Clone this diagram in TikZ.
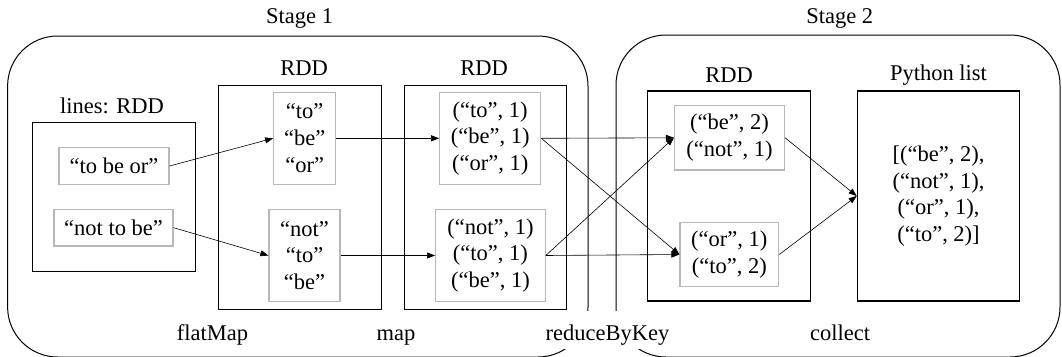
\documentclass[tikz,border=0pt]{standalone}
\usepackage{fontspec}
\setmainfont{Liberation Serif}
\usetikzlibrary{arrows.meta}
\begin{document}
\begin{tikzpicture}[x=1pt,y=-1pt,
  every node/.style={font=\fontsize{22.5}{26.7}\selectfont, inner sep=0pt},
  stage/.style={draw, line width=1pt, rounded corners=50pt},
  rdd/.style={draw, line width=1.1pt, align=center, minimum width=162.5pt},
  part/.style={draw=black!28, line width=1.2pt, align=center},
  oplbl/.style={anchor=base},
  conn/.style={line width=0.6pt, -{Triangle[length=8pt,width=6pt]}}
]
\useasboundingbox (0,0) rectangle (1062,356);
% stages
\node[stage, minimum width=580.4pt, minimum height=321pt] (s1) at (297.8,196.5) {};
\node[stage, minimum width=444pt, minimum height=322pt] (s2) at (838,196) {};
\node (s1l) at (299.6,18.3) {Stage 1};
\node (s2l) at (839.7,18.3) {Stage 2};
% lines RDD
\node[rdd, minimum height=148.3pt] (lines) at (114,196.9) {};
\node (linesl) at (112,106) {lines: RDD};
\node[part, minimum width=110pt, minimum height=36.7pt] (l1) at (114,166) {“to be or”};
\node[part, minimum width=119pt, minimum height=36.7pt] (l2) at (113.5,227.7) {“not to be”};
% RDD 2
\node[rdd, minimum height=223.6pt] (r2) at (300,197.5) {};
\node (r2l) at (304,68.3) {RDD};
\node[part, minimum width=62pt, minimum height=92pt] (w1) at (304.7,138.3) {“to”\\“be”\\“or”};
\node[part, minimum width=71pt, minimum height=92.4pt] (w2) at (304.5,255.5) {“not”\\“to”\\“be”};
% RDD 3
\node[rdd, minimum height=223.6pt] (r3) at (485.3,197.5) {};
\node (r3l) at (484,68.3) {RDD};
\node[part, minimum width=101pt, minimum height=92pt] (p1) at (490.2,138.3) {(“to”, 1)\\(“be”, 1)\\(“or”, 1)};
\node[part, minimum width=109.6pt, minimum height=92.4pt] (p2) at (490.4,255.5) {(“not”, 1)\\(“to”, 1)\\(“be”, 1)};
% Stage 2 RDD
\node[rdd, minimum height=210pt] (r4) at (729,196) {};
\node (r4l) at (729,75) {RDD};
\node[part, minimum width=110pt, minimum height=64.3pt] (q1) at (729.5,137.8) {(“be”, 2)\\(“not”, 1)};
\node[part, minimum width=98.6pt, minimum height=64.4pt] (q2) at (729.3,254.5) {(“or”, 1)\\(“to”, 2)};
% Python list
\node[rdd, minimum height=210pt] (pl) at (938.5,196) {[(“be”, 2),\\(“not”, 1),\\(“or”, 1),\\(“to”, 2)]};
\node (pll) at (938.5,75) {Python list};
% operation labels
\node[oplbl] (op1) at (212.5,340.5) {flatMap};
\node[oplbl] (op2) at (396,340.5) {map};
\node[oplbl, fill=white, inner xsep=1pt, text height=29.5pt, text depth=8.5pt] (op3) at (607.5,340.5) {reduceByKey};
\node[oplbl] (op4) at (840,340.5) {collect};
% connectors
\draw[conn] (l1.east) -- (w1.west);
\draw[conn] (l2.east) -- (w2.west);
\draw[conn] (w1.east) -- (p1.west);
\draw[conn] (w2.east) -- (p2.west);
\draw[conn] (p1.east) -- (q1.west);
\draw[conn] (p1.east) -- (q2.west);
\draw[conn] (p2.east) -- (q1.west);
\draw[conn] (p2.east) -- (q2.west);
\draw[conn] (q1.east) -- (pl.west);
\draw[conn] (q2.east) -- (pl.west);
\end{tikzpicture}
\end{document}
